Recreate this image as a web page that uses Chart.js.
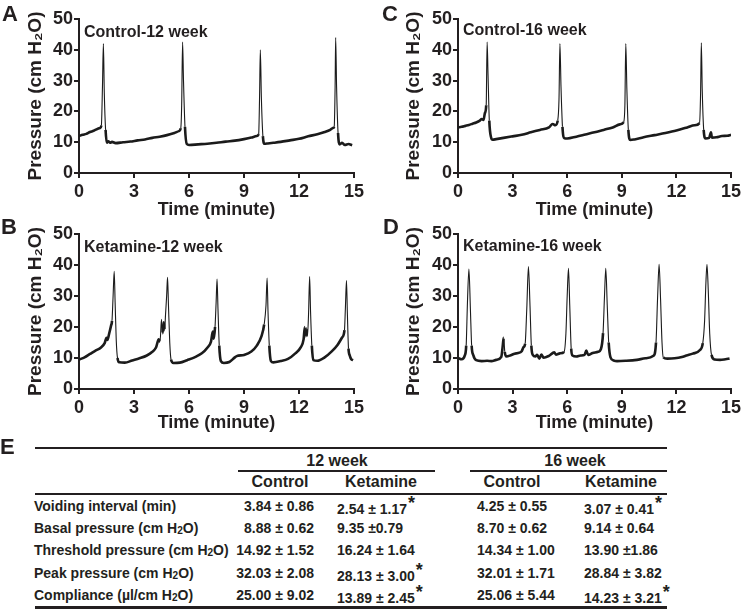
<!DOCTYPE html>
<html>
<head>
<meta charset="utf-8">
<script src="https://cdn.jsdelivr.net/npm/chart.js@4.4.1/dist/chart.umd.min.js"></script>
<style>
  body { margin: 0; background: #fff; }
  #fig { position: relative; width: 744px; height: 609px; overflow: hidden; font-family: "Liberation Sans", Arial, sans-serif; color: #231f20; }
  .panel { position: absolute; }
  .tx { position: absolute; font-weight: bold; white-space: nowrap; line-height: 1; }
  .tx sub { font-size: 0.72em; vertical-align: baseline; position: relative; top: 1px; }
  .star { font-size: 18px; position: relative; top: -5px; margin-left: 1px; }
  .rule { position: absolute; background: #231f20; }
</style>
</head>
<body>
<div id="fig">
  <canvas id="chartA" class="panel" width="372" height="222" style="left:0;top:0"></canvas>
  <canvas id="chartC" class="panel" width="372" height="222" style="left:372px;top:0"></canvas>
  <canvas id="chartB" class="panel" width="372" height="222" style="left:0;top:215px"></canvas>
  <canvas id="chartD" class="panel" width="372" height="222" style="left:372px;top:215px"></canvas>
</div>
<script>
// traces: [time (minute), pressure (cm H2O)]
const traceA = [
  [0, 12.0], [0.2, 12.4], [0.4, 12.7], [0.6, 13.3], [0.8, 13.7], [1.0, 14.3], [1.15, 14.6], [1.22, 15.4], [1.28, 28], [1.33, 42],
  [1.38, 26], [1.45, 14], [1.52, 9.8], [1.6, 10.3], [1.7, 9.8], [1.8, 10.1], [2.0, 9.7], [2.4, 10.0], [2.8, 10.2], [3.2, 10.6],
  [3.6, 10.9], [4.0, 11.4], [4.4, 11.8], [4.8, 12.3], [5.2, 13.0], [5.45, 13.6], [5.55, 14.5], [5.6, 22], [5.65, 42.5], [5.7, 30],
  [5.78, 15], [5.88, 9.4], [6.0, 9.1], [6.5, 9.3], [7.0, 9.5], [7.5, 9.8], [8.0, 10.2], [8.5, 10.5], [9.0, 11.0], [9.4, 11.5],
  [9.7, 12.0], [9.8, 12.6], [9.85, 25], [9.89, 40], [9.95, 24], [10.03, 12], [10.12, 9.5], [10.3, 9.6], [10.6, 9.8], [11.0, 10.1],
  [11.5, 10.6], [12.0, 11.1], [12.5, 11.9], [13.0, 12.6], [13.4, 13.3], [13.7, 14.0], [13.85, 14.6], [13.92, 15.0], [13.97, 28], [14.0, 44],
  [14.05, 28], [14.13, 13], [14.22, 9.3], [14.35, 9.8], [14.5, 9.1], [14.7, 9.4], [14.9, 9.0]
];
const traceC = [
  [0, 14.8], [0.2, 15.0], [0.4, 15.3], [0.6, 15.6], [0.8, 16.0], [1.0, 16.4], [1.2, 17.0], [1.3, 17.5], [1.4, 17.2], [1.48, 19.5],
  [1.55, 22], [1.6, 42.5], [1.65, 32], [1.72, 17], [1.82, 11.5], [1.9, 10.8], [2.1, 11.0], [2.5, 11.4], [3.0, 11.9], [3.5, 12.4],
  [4.0, 13.2], [4.5, 14.0], [5.0, 14.8], [5.2, 15.9], [5.35, 15.5], [5.48, 17.0], [5.55, 24], [5.6, 42], [5.66, 28], [5.74, 15],
  [5.85, 11.3], [6.0, 11.2], [6.5, 11.8], [7.0, 12.5], [7.5, 13.2], [8.0, 14.0], [8.5, 14.8], [8.9, 15.8], [9.1, 16.5], [9.17, 22],
  [9.22, 42], [9.28, 27], [9.36, 14], [9.47, 10.7], [9.7, 10.9], [10.2, 11.6], [10.8, 12.3], [11.4, 13.0], [12.0, 13.8], [12.6, 14.8],
  [13.0, 15.5], [13.27, 16.2], [13.33, 26], [13.37, 42.3], [13.42, 27], [13.5, 14], [13.6, 11.2], [13.8, 11.4], [13.9, 13.2], [13.95, 11.5],
  [14.2, 11.6], [14.5, 12.0], [14.8, 12.1], [15.0, 12.4]
];
const traceB = [
  [0, 9.5], [0.3, 10.2], [0.6, 11.3], [0.9, 12.4], [1.2, 13.4], [1.4, 14.8], [1.5, 16.5], [1.55, 15.8], [1.65, 18], [1.75, 20.5],
  [1.8, 22], [1.86, 30], [1.92, 38], [1.97, 28], [2.03, 16], [2.1, 10], [2.2, 8.6], [2.5, 8.5], [2.9, 9.2], [3.3, 9.9],
  [3.7, 10.8], [4.0, 12.0], [4.2, 13.4], [4.35, 16], [4.42, 15.3], [4.5, 22.5], [4.55, 18], [4.62, 21.5], [4.67, 19], [4.72, 24],
  [4.78, 30], [4.83, 36], [4.88, 27], [4.95, 15], [5.02, 9.5], [5.15, 8.4], [5.5, 8.5], [5.9, 9.3], [6.3, 10.2], [6.7, 11.5],
  [7.0, 13.3], [7.2, 15.3], [7.3, 18.5], [7.35, 16.2], [7.42, 20], [7.48, 28], [7.53, 35.5], [7.58, 26], [7.65, 14], [7.74, 9.0],
  [7.9, 8.4], [8.2, 8.7], [8.5, 10.2], [8.6, 10.6], [9.0, 11.0], [9.4, 12.1], [9.7, 14.0], [9.95, 17.0], [10.1, 20.8], [10.2, 27],
  [10.26, 35.8], [10.31, 25], [10.38, 14], [10.47, 9.0], [10.6, 8.6], [11.0, 9.0], [11.4, 9.7], [11.8, 11.5], [12.1, 13.5], [12.25, 16],
  [12.32, 20], [12.36, 17], [12.42, 19.5], [12.46, 17], [12.52, 24], [12.58, 36.3], [12.63, 25], [12.7, 14], [12.78, 9.3], [13.0, 9.1],
  [13.4, 10.2], [13.8, 12.2], [14.1, 14.2], [14.35, 16.6], [14.48, 19], [14.53, 26], [14.59, 35], [14.64, 24], [14.7, 13], [14.77, 10.8],
  [14.85, 9.6], [14.95, 9.3]
];
const traceD = [
  [0, 10.0], [0.2, 9.6], [0.38, 10.9], [0.45, 14], [0.52, 28], [0.6, 38.7], [0.68, 26], [0.75, 14], [0.84, 10.9], [1.0, 9.3],
  [1.3, 9.0], [1.6, 9.1], [1.84, 9.0], [2.1, 9.4], [2.38, 10.4], [2.46, 14], [2.51, 16.5], [2.57, 12], [2.66, 10.5], [2.9, 10.9],
  [3.11, 11.4], [3.3, 11.6], [3.5, 12.2], [3.6, 13.5], [3.69, 14.6], [3.78, 26], [3.87, 39.5], [3.95, 28], [4.03, 14], [4.11, 11.0],
  [4.25, 10.5], [4.35, 11.0], [4.47, 9.8], [4.58, 11.1], [4.7, 10.1], [5.0, 10.7], [5.29, 11.8], [5.38, 11.1], [5.6, 11.5], [5.83, 12.0],
  [5.93, 18], [6.0, 30], [6.07, 38.9], [6.14, 27], [6.22, 13], [6.29, 10.8], [6.5, 10.5], [6.74, 10.8], [6.95, 11.0], [7.05, 12.4],
  [7.15, 11.0], [7.4, 11.6], [7.7, 12.0], [7.85, 12.8], [7.97, 18], [8.05, 30], [8.12, 38.9], [8.2, 27], [8.28, 15], [8.38, 10.2],
  [8.55, 9.2], [8.74, 9.0], [9.2, 9.1], [9.83, 9.4], [10.3, 9.9], [10.74, 10.7], [10.88, 15], [10.97, 30], [11.05, 40.2], [11.13, 29],
  [11.21, 15], [11.28, 10.2], [11.5, 9.8], [11.9, 9.9], [12.3, 10.3], [12.55, 10.8], [12.9, 11.4], [13.28, 12.5], [13.45, 14.8], [13.55, 22],
  [13.62, 34], [13.68, 40.2], [13.75, 32], [13.83, 18], [13.93, 11], [14.1, 9.5], [14.4, 9.4], [14.7, 9.6], [14.92, 9.8]
];

// table E
const rowLabels = ['Voiding interval (min)', 'Basal pressure (cm H2O)', 'Threshold pressure (cm H2O)', 'Peak pressure (cm H2O)', 'Compliance (\u00b5l/cm H2O)'];
const control12 = ['3.84 \u00b1 0.86', '8.88 \u00b1 0.62', '14.92 \u00b1 1.52', '32.03 \u00b1 2.08', '25.00 \u00b1 9.02'];
const ketamine12 = ['2.54 \u00b1 1.17', '9.35 \u00b10.79', '16.24 \u00b1 1.64', '28.13 \u00b1 3.00', '13.89 \u00b1 2.45'];
const control16 = ['4.25 \u00b1 0.55', '8.70 \u00b1 0.62', '14.34 \u00b1 1.00', '32.01 \u00b1 1.71', '25.06 \u00b1 5.44'];
const ketamine16 = ['3.07 \u00b1 0.41', '9.14 \u00b1 0.64', '13.90 \u00b11.86', '28.84 \u00b1 3.82', '14.23 \u00b1 3.21'];
const star12 = [true, false, false, true, true];
const star16 = [true, false, false, false, true];

const ink = '#231f20';
const fontFamily = '"Liberation Sans", Arial, sans-serif';
Chart.defaults.font.family = fontFamily;
Chart.defaults.color = ink;

const panelTitle = {
    id: 'panelTitle',
    afterDraw(chart, args, opts) {
        const ctx = chart.ctx;
        ctx.save();
        ctx.font = 'bold 16px ' + fontFamily;
        ctx.fillStyle = ink;
        ctx.textBaseline = 'alphabetic';
        ctx.fillText(opts.text, chart.chartArea.left + 5, chart.chartArea.top + opts.dy);
        ctx.restore();
    }
};

// steep parts of the trace (voiding spikes) are drawn thinner, as in the recording
function steep(ctx) {
    const dx = ctx.p1.parsed.x - ctx.p0.parsed.x;
    const dy = ctx.p1.parsed.y - ctx.p0.parsed.y;
    return Math.abs(dy / dx) > 60;
}

function makeTrace(id, trace, name, o) {
    new Chart(document.getElementById(id), {
        type: 'line',
        data: {
            datasets: [{
                data: trace.map(p => ({ x: p[0], y: p[1] })),
                borderColor: '#1b1b1b',
                borderWidth: 2.6,
                pointRadius: 0,
                cubicInterpolationMode: 'monotone',
                segment: { borderWidth: ctx => steep(ctx) ? 1.1 : 2.6 }
            }]
        },
        options: {
            responsive: false,
            animation: false,
            devicePixelRatio: 1,
            layout: { padding: { top: 19, right: o.right, left: 0, bottom: 0 } },
            plugins: {
                legend: { display: false },
                tooltip: { enabled: false },
                panelTitle: { text: name, dy: o.dy }
            },
            scales: {
                x: {
                    type: 'linear', min: 0, max: 15,
                    ticks: { stepSize: 3, padding: 3, maxRotation: 0, autoSkip: false, font: { size: 18, weight: 'bold' } },
                    grid: { drawOnChartArea: false, tickLength: 5, color: ink, lineWidth: 2 },
                    border: { color: ink, width: 2 },
                    title: { display: true, text: 'Time (minute)', font: { size: 18, weight: 'bold' }, padding: { top: 0, bottom: o.xTitlePad } },
                    afterFit: s => { s.height = o.xHeight; }
                },
                y: {
                    min: 0, max: 50,
                    ticks: { stepSize: 10, padding: 1, font: { size: 18, weight: 'bold' } },
                    grid: { drawOnChartArea: false, tickLength: 5, color: ink, lineWidth: 2 },
                    border: { color: ink, width: 2 },
                    title: { display: true, text: 'Pressure (cm H\u2082O)', font: { size: 19, weight: 'bold' }, padding: { top: o.yTitlePad, bottom: 0 } },
                    afterFit: s => { s.width = o.yWidth; }
                }
            }
        },
        plugins: [panelTitle]
    });
}

makeTrace('chartA', traceA, 'Control-12 week', { right: 18, yWidth: 79, xHeight: 49, xTitlePad: 1, yTitlePad: 24, dy: 18 });
makeTrace('chartC', traceC, 'Control-16 week', { right: 11, yWidth: 86, xHeight: 49, xTitlePad: 1, yTitlePad: 30, dy: 16 });
makeTrace('chartB', traceB, 'Ketamine-12 week', { right: 18, yWidth: 79, xHeight: 48, xTitlePad: 3, yTitlePad: 24, dy: 18 });
makeTrace('chartD', traceD, 'Ketamine-16 week', { right: 11, yWidth: 86, xHeight: 48, xTitlePad: 3, yTitlePad: 30, dy: 17 });

// letters, table text and rules
const fig = document.getElementById('fig');
const fmt = s => s.replace('H2O', 'H<sub>2</sub>O');

function addText(html, x, cy, size, align) {
    const d = document.createElement('div');
    d.className = 'tx';
    d.innerHTML = html;
    d.style.fontSize = size + 'px';
    d.style.top = (cy - 0.49 * size) + 'px';
    if (align === 'center') {
        d.style.left = x + 'px';
        d.style.transform = 'translateX(-50%)';
    } else if (align === 'right') {
        d.style.right = (744 - x) + 'px';
    } else {
        d.style.left = x + 'px';
    }
    fig.appendChild(d);
}

function addRule(x1, x2, y, w) {
    const r = document.createElement('div');
    r.className = 'rule';
    r.style.left = x1 + 'px';
    r.style.width = (x2 - x1) + 'px';
    r.style.top = (y - w / 2) + 'px';
    r.style.height = w + 'px';
    fig.appendChild(r);
}

addText('A', 2, 14, 22);
addText('C', 382, 14, 22);
addText('B', 1, 227, 22);
addText('D', 383, 227, 22);
addText('E', 0, 447, 22);

addRule(35, 667, 448, 2);
addRule(238, 435, 471, 1.5);
addRule(470, 667, 471, 1.5);
addRule(35, 667, 494, 1.5);
addRule(35, 667, 607, 3);

addText('12 week', 337, 461, 16, 'center');
addText('16 week', 575, 461, 16, 'center');
addText('Control', 280, 482, 16, 'center');
addText('Ketamine', 381, 482, 16, 'center');
addText('Control', 512, 482, 16, 'center');
addText('Ketamine', 621, 482, 16, 'center');

const rowY = [506, 528, 550, 573, 595];
rowLabels.forEach((label, i) => {
    const star = '<span class="star">*</span>';
    addText(fmt(label), 34, rowY[i], 14);
    addText(control12[i], 314, rowY[i], 14, 'right');
    addText(ketamine12[i] + (star12[i] ? star : ''), 337, rowY[i], 14);
    addText(control16[i], 477, rowY[i], 14);
    addText(ketamine16[i] + (star16[i] ? star : ''), 584, rowY[i], 14);
});
</script>
</body>
</html>
